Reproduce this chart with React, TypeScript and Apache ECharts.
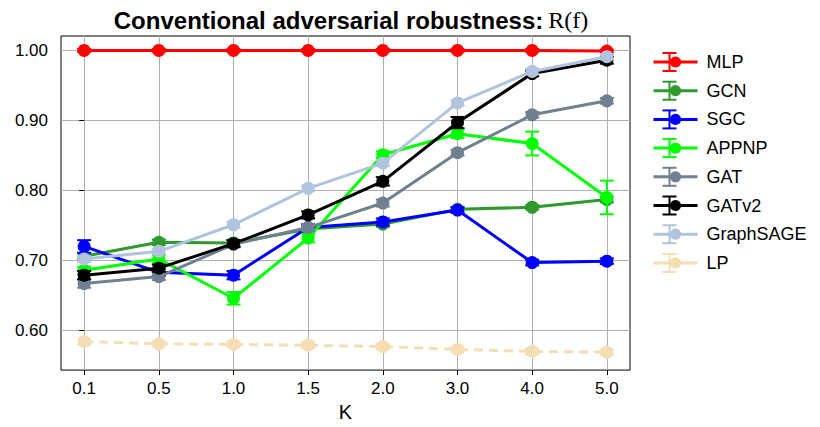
import React, { useEffect, useRef } from "react";
import * as echarts from "echarts";

const K_LABELS = ["0.1", "0.5", "1.0", "1.5", "2.0", "3.0", "4.0", "5.0"];
const Y_TICKS = [0.6, 0.7, 0.8, 0.9, 1.0];

const MODELS = ["MLP", "GCN", "SGC", "APPNP", "GAT", "GATv2", "GraphSAGE", "LP"];
const COLORS = ["#ff0000", "#2e9a2e", "#0000ff", "#00ff00", "#708090", "#000000", "#b0c4de", "#f5deb3"];

const MLP = [1.0, 1.0, 1.0, 1.0, 1.0, 1.0, 1.0, 0.999];
const GCN = [0.706, 0.726, 0.725, 0.745, 0.752, 0.773, 0.776, 0.787];
const SGC = [0.72, 0.683, 0.679, 0.747, 0.755, 0.772, 0.697, 0.699];
const APPNP = [0.686, 0.702, 0.646, 0.732, 0.851, 0.881, 0.867, 0.79];
const GAT = [0.667, 0.677, 0.723, 0.747, 0.782, 0.854, 0.908, 0.928];
const GATV2 = [0.679, 0.689, 0.724, 0.765, 0.813, 0.897, 0.967, 0.986];
const GRAPHSAGE = [0.702, 0.713, 0.751, 0.803, 0.839, 0.925, 0.97, 0.991];
const LP = [0.584, 0.581, 0.58, 0.579, 0.577, 0.573, 0.57, 0.569];

const MLP_ERR = [0.002, 0.002, 0.002, 0.002, 0.002, 0.002, 0.002, 0.002];
const GCN_ERR = [0.004, 0.004, 0.004, 0.004, 0.004, 0.003, 0.003, 0.004];
const SGC_ERR = [0.009, 0.005, 0.006, 0.005, 0.005, 0.004, 0.004, 0.004];
const APPNP_ERR = [0.005, 0.006, 0.009, 0.006, 0.005, 0.006, 0.017, 0.024];
const GAT_ERR = [0.006, 0.005, 0.004, 0.005, 0.005, 0.004, 0.004, 0.004];
const GATV2_ERR = [0.006, 0.005, 0.005, 0.005, 0.006, 0.008, 0.004, 0.005];
const GRAPHSAGE_ERR = [0.004, 0.004, 0.004, 0.004, 0.004, 0.004, 0.004, 0.004];
const LP_ERR = [0.004, 0.004, 0.004, 0.004, 0.004, 0.004, 0.004, 0.004];

const VALUES = [MLP, GCN, SGC, APPNP, GAT, GATV2, GRAPHSAGE, LP];
const ERRORS = [MLP_ERR, GCN_ERR, SGC_ERR, APPNP_ERR, GAT_ERR, GATV2_ERR, GRAPHSAGE_ERR, LP_ERR];

export default function App() {
  const ref = useRef<HTMLDivElement>(null);
  useEffect(() => {
    if (!ref.current) return;
    const chart = echarts.init(ref.current, null, { renderer: "svg" });
    const idx = K_LABELS.map((_, i) => i);
    const series: any[] = [];
    MODELS.forEach((name, s) => {
      series.push({
        type: "custom",
        name: name + "_err",
        silent: true,
        z: 2 + s,
        data: VALUES[s].map((v, i) => [i, v, ERRORS[s][i]]),
        renderItem: (params: any, api: any) => {
          const x = api.value(0);
          const v = api.value(1);
          const e = api.value(2);
          const lo = api.coord([x, v - e]);
          const hi = api.coord([x, v + e]);
          const style = { stroke: COLORS[s], lineWidth: 2 };
          return {
            type: "group",
            children: [
              { type: "line", shape: { x1: lo[0], y1: lo[1], x2: hi[0], y2: hi[1] }, style },
              { type: "line", shape: { x1: lo[0] - 7, y1: lo[1], x2: lo[0] + 7, y2: lo[1] }, style },
              { type: "line", shape: { x1: hi[0] - 7, y1: hi[1], x2: hi[0] + 7, y2: hi[1] }, style },
            ],
          };
        },
      });
      series.push({
        type: "line",
        name,
        z: 2 + s,
        data: VALUES[s].map((v, i) => [i, v]),
        symbol: "circle",
        symbolSize: 13,
        lineStyle: { color: COLORS[s], width: 3, type: name === "LP" ? [9, 6] : "solid" },
        itemStyle: { color: COLORS[s] },
      });
    });

    const legendTop = 48;
    const rowH = 28.7;
    const legendCx = 669.5;
    const legendCaps: any[] = [];
    MODELS.forEach((_, s) => {
      const cy = legendTop + 14 + rowH * s;
      const style = { stroke: COLORS[s], lineWidth: 2 };
      legendCaps.push(
        { type: "line", z: 100, shape: { x1: legendCx, y1: cy - 9, x2: legendCx, y2: cy + 9 }, style },
        { type: "line", z: 100, shape: { x1: legendCx - 7, y1: cy - 9, x2: legendCx + 7, y2: cy - 9 }, style },
        { type: "line", z: 100, shape: { x1: legendCx - 7, y1: cy + 9, x2: legendCx + 7, y2: cy + 9 }, style }
      );
    });

    chart.setOption({
      animation: false,
      title: {
        text: "{a|Conventional adversarial robustness:} {b|R(f)}",
        left: 346,
        top: 3,
        textAlign: "center",
        textStyle: {
          rich: {
            a: { fontFamily: "Liberation Sans", fontWeight: "bold", fontSize: 24, color: "#000" },
            b: { fontFamily: "Liberation Serif", fontWeight: "normal", fontSize: 24, color: "#000" },
          },
        },
      },
      legend: {
        data: MODELS,
        orient: "vertical",
        left: 647,
        top: legendTop,
        itemWidth: 44,
        itemHeight: 14,
        itemGap: 10.7,
        lineStyle: { type: "solid", width: 3 },
        textStyle: { fontFamily: "Liberation Sans", fontSize: 18, color: "#000", padding: [0, 0, 0, 4] },
      },
      graphic: legendCaps,
      grid: {
        left: 61,
        right: 190,
        top: 36,
        bottom: 55.5,
        show: true,
        borderColor: "#000",
        borderWidth: 1,
        backgroundColor: "transparent",
      },
      xAxis: {
        type: "value",
        min: -0.31,
        max: 7.31,
        name: "K",
        nameLocation: "middle",
        nameGap: 27,
        nameTextStyle: { fontFamily: "Liberation Sans", fontSize: 20, color: "#000" },
        axisLine: { show: false },
        axisTick: { show: true, customValues: idx, length: 5, lineStyle: { color: "#000" } },
        axisLabel: {
          customValues: idx,
          formatter: (v: number) => K_LABELS[Math.round(v)] ?? "",
          fontFamily: "Liberation Sans",
          fontSize: 17,
          color: "#000",
          margin: 10,
        },
        splitLine: { show: true, lineStyle: { color: "#b0b0b0", width: 1 } },
      },
      yAxis: {
        type: "value",
        min: 0.5434,
        max: 1.0206,
        axisLine: { show: false },
        axisTick: { show: true, customValues: Y_TICKS, length: 5, lineStyle: { color: "#000" } },
        axisLabel: {
          customValues: Y_TICKS,
          formatter: (v: number) => v.toFixed(2),
          fontFamily: "Liberation Sans",
          fontSize: 17,
          color: "#000",
          margin: 13,
        },
        splitLine: { show: true, lineStyle: { color: "#b0b0b0", width: 1 } },
      },
      series,
    });
    return () => chart.dispose();
  }, []);
  return <div ref={ref} style={{ width: 820, height: 427, position: "absolute", left: 0, top: 0 }} />;
}
